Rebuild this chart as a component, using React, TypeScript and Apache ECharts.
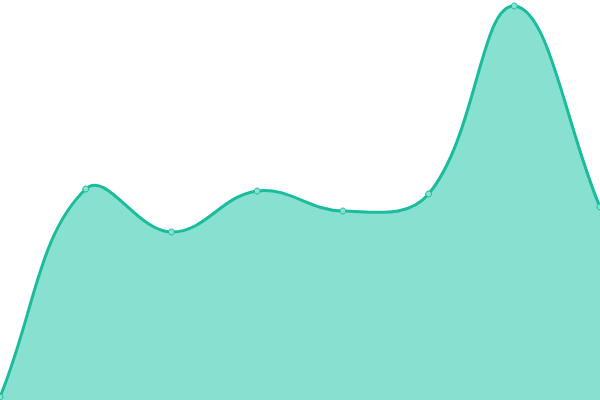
import { useEffect, useRef } from "react";
import * as echarts from "echarts";

const categories = ["1", "2", "3", "4", "5", "6", "7", "8"];
const values = [3, 211, 168, 209, 189, 206, 394, 193];

const LINE = "#1abc9c";
const FILL = "#88e0d0";
const TENSION = 0.4;

type Pt = { x: number; y: number };

// cubic spline control points (cardinal style, weighted by segment length)
function controlPoints(prev: Pt, cur: Pt, next: Pt, t: number) {
  const d01 = Math.hypot(cur.x - prev.x, cur.y - prev.y);
  const d12 = Math.hypot(next.x - cur.x, next.y - cur.y);
  let s01 = d01 / (d01 + d12);
  let s12 = d12 / (d01 + d12);
  if (!isFinite(s01)) s01 = 0;
  if (!isFinite(s12)) s12 = 0;
  const fa = t * s01;
  const fb = t * s12;
  return {
    prev: { x: cur.x - fa * (next.x - prev.x), y: cur.y - fa * (next.y - prev.y) },
    next: { x: cur.x + fb * (next.x - prev.x), y: cur.y + fb * (next.y - prev.y) },
  };
}

function buildPath(pts: Pt[]) {
  const cps = pts.map((p, i) =>
    controlPoints(pts[Math.max(i - 1, 0)], p, pts[Math.min(i + 1, pts.length - 1)], TENSION),
  );
  let d = `M${pts[0].x},${pts[0].y}`;
  for (let i = 1; i < pts.length; i++) {
    const a = cps[i - 1].next;
    const b = cps[i].prev;
    d += ` C${a.x},${a.y} ${b.x},${b.y} ${pts[i].x},${pts[i].y}`;
  }
  return d;
}

export default function App() {
  const elRef = useRef<HTMLDivElement>(null);

  useEffect(() => {
    const el = elRef.current;
    if (!el) return;
    const chart = echarts.init(el, undefined, { renderer: "svg" });
    chart.setOption({
      animation: false,
      grid: { left: 0, right: 0, top: 0, bottom: 0 },
      xAxis: { type: "category", data: categories, boundaryGap: false, show: false },
      yAxis: { type: "value", min: 0, max: 400, show: false },
      series: [
        {
          type: "custom",
          clip: false,
          data: values.map((v, i) => [i, v]),
          renderItem: (params: any, api: any) => {
            const idx = params.dataIndex;
            const c = api.coord([idx, values[idx]]);
            const dot = {
              type: "circle",
              z2: 10,
              shape: { cx: c[0], cy: c[1], r: 3 },
              style: { fill: FILL, stroke: LINE, lineWidth: 1 },
            };
            if (idx !== 0) return dot;
            const pts: Pt[] = values.map((v, i) => {
              const p = api.coord([i, v]);
              return { x: p[0], y: p[1] };
            });
            const line = buildPath(pts);
            const bottom = params.coordSys.y + params.coordSys.height;
            const last = pts[pts.length - 1];
            const area = `${line} L${last.x},${bottom} L${pts[0].x},${bottom} Z`;
            return {
              type: "group",
              children: [
                { type: "path", shape: { pathData: area }, style: { fill: FILL, stroke: "none" } },
                {
                  type: "path",
                  shape: { pathData: line },
                  style: { fill: "none", stroke: LINE, lineWidth: 3 },
                },
                dot,
              ],
            };
          },
        },
      ],
    });
    return () => chart.dispose();
  }, []);

  return (
    <div
      ref={elRef}
      style={{ position: "fixed", left: 0, top: 0, width: 600, height: 400 }}
    />
  );
}
